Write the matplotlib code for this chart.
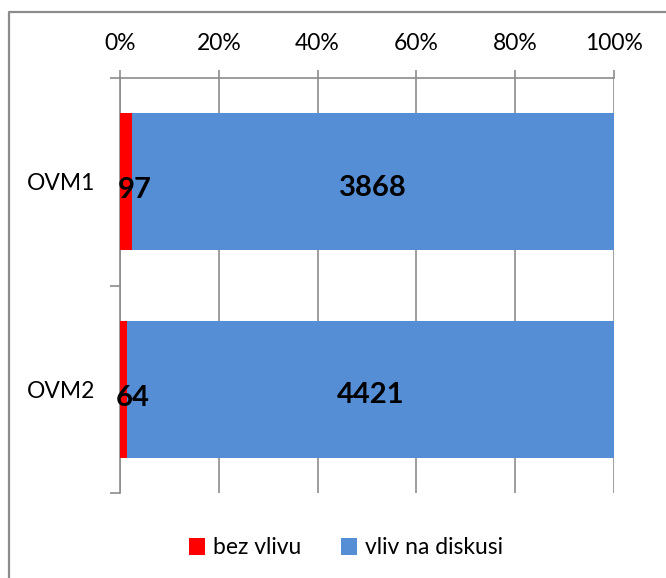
import matplotlib
matplotlib.use('agg')
import matplotlib.pyplot as plt
import numpy as np
from matplotlib.lines import Line2D

plt.rcParams['font.family'] = ['Lato', 'DejaVu Sans']

#########
# Data  #
#########

categories = ['OVM1', 'OVM2']
bez_vlivu = [97, 64]
vliv_na_diskusi = [3868, 4421]
series_names = ['bez vlivu', 'vliv na diskusi']
tick_labels = ['0%', '20%', '40%', '60%', '80%', '100%']

red = '#FF0000'
blue = '#558ED5'
grey = '#8C8C8C'

#########
# Plot  #
#########

fig = plt.figure(figsize=(6.66, 5.78), dpi=100)
ax = fig.add_axes([120/666, 1-493/578, 494/666, 415/578])

# outer border of the chart (only left and top edges are in the picture)
fig.lines.append(Line2D([8.5/666, 8.5/666, 1.0], [0.0, 1-11.5/578, 1-11.5/578],
                        transform=fig.transFigure, color=grey, linewidth=1.6))

totals = np.array(bez_vlivu) + np.array(vliv_na_diskusi)
p_red = np.array(bez_vlivu) / totals
p_blue = np.array(vliv_na_diskusi) / totals
y = np.arange(len(categories))
h = 0.66

b1 = ax.barh(y, p_red, height=h, color=red, label=series_names[0], zorder=3)
b2 = ax.barh(y, p_blue, left=p_red, height=h, color=blue, label=series_names[1], zorder=3)

for i in range(len(categories)):
    ax.text(p_red[i] / 2 + 0.018, y[i] + 0.04, str(bez_vlivu[i]), ha='center', va='center',
            fontsize=21, fontweight='bold', zorder=4)
    ax.text(p_red[i] + p_blue[i] / 2, y[i] + 0.03, str(vliv_na_diskusi[i]), ha='center',
            va='center', fontsize=21, fontweight='bold', zorder=4)

ax.set_xlim(0, 1)
ax.set_ylim(1.5, -0.5)
ax.xaxis.tick_top()
ax.set_xticks(np.linspace(0, 1, 6))
ax.set_xticklabels(tick_labels, fontsize=16.5)
ax.tick_params(axis='x', direction='out', length=6, width=1.2, color=grey, pad=11)
ax.set_yticks(y)
ax.set_yticklabels(categories, fontsize=16.5)
ax.tick_params(axis='y', which='major', length=0, pad=18)
ax.set_yticks([-0.5, 0.5, 1.5], minor=True)
ax.tick_params(axis='y', which='minor', direction='out', length=7, width=1.2, color=grey)
ax.grid(axis='x', color=grey, linewidth=1.2, zorder=0)

for s in ['right', 'bottom']:
    ax.spines[s].set_visible(False)
for s in ['top', 'left']:
    ax.spines[s].set_color(grey)
    ax.spines[s].set_linewidth(1.2)

fig.legend(handles=[b1, b2], labels=series_names, loc='center', bbox_to_anchor=(346/666, 1-548/578),
           ncol=2, frameon=False, fontsize=16.5, handlelength=0.7, handleheight=0.7,
           handletextpad=0.35, columnspacing=1.7)

plt.savefig('out.png', dpi=100)
